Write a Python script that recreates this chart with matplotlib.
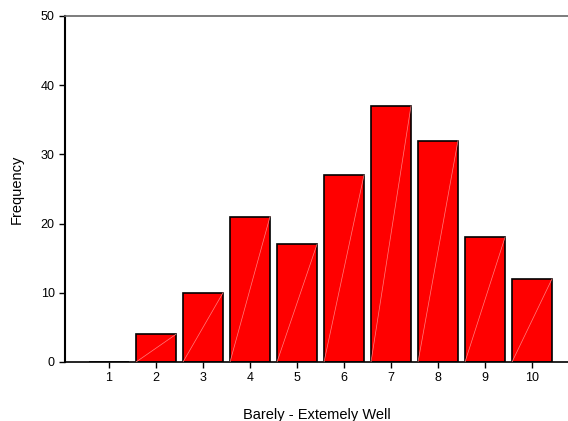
import matplotlib
matplotlib.use("Agg")
import matplotlib.pyplot as plt
import numpy as np

categories = [1, 2, 3, 4, 5, 6, 7, 8, 9, 10]
frequency = [0, 4, 10, 21, 17, 27, 37, 32, 18, 12]
yticks = [0, 10, 20, 30, 40, 50]

plt.rcParams['font.family'] = ['Liberation Sans', 'DejaVu Sans']

fig = plt.figure(figsize=(5.68, 4.21), dpi=100)
ax = fig.add_axes([65/568, 59/421, 1 - 65/568, (362-16)/421])

w = 0.85
bars = ax.bar(categories, frequency, width=w, color='#ff0000', edgecolor='black', linewidth=1.2, zorder=2)
for x, v in zip(categories, frequency):
    if v > 0:
        ax.plot([x - w/2, x + w/2], [0, v], color='#ff8080', linewidth=0.5, zorder=3)

ax.set_xlim(1 - 44/47, 1 + (568-109)/47)
ax.set_ylim(0, 50)
ax.set_xticks(categories)
ax.set_yticks(yticks)
ax.tick_params(axis='both', labelsize=9, length=4, width=1, direction='out', colors='black')
ax.spines['right'].set_visible(False)
ax.spines['top'].set_color('#666666')
ax.spines['top'].set_linewidth(1.2)
ax.spines['left'].set_linewidth(1.5)
ax.spines['bottom'].set_linewidth(1.2)
ax.set_ylabel('Frequency', fontsize=10.5, labelpad=12)
ax.set_xlabel('Barely - Extemely Well', fontsize=10.5, labelpad=17)

fig.savefig('out.png', dpi=100)
